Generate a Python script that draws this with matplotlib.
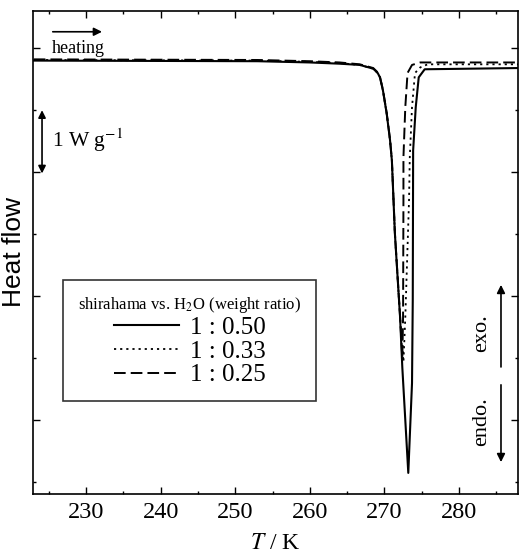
import matplotlib
matplotlib.use('Agg')
import matplotlib.pyplot as plt
from matplotlib.ticker import MultipleLocator, NullFormatter
import matplotlib.transforms as mtransforms

plt.rcParams['font.family'] = ['Liberation Serif', 'DejaVu Serif']
plt.rcParams['mathtext.fontset'] = 'stix'

# temperature / K and heat flow / W g^-1 (offset arbitrary)
T_050 = [223.0, 253.0, 260.0, 264.0, 266.7, 268.5, 269.1, 269.4, 269.8, 270.3, 270.75,
         271.0, 271.4, 272.1, 272.4, 273.2, 273.7, 273.8, 273.85, 274.2, 274.6, 275.4, 288.0]
y_050 = [5.80, 5.79, 5.77, 5.75, 5.73, 5.67, 5.60, 5.53, 5.32, 4.95, 4.52,
         4.19, 3.02, 1.66, 0.85, -0.85, 0.60, 1.94, 4.35, 5.05, 5.53, 5.66, 5.68]

T_033 = [223.0, 253.0, 260.0, 264.0, 266.7, 268.5, 269.1, 269.4, 269.8, 270.3, 270.75,
         271.0, 271.4, 272.1, 272.55, 272.8, 273.3, 273.4, 273.7, 274.1, 274.8, 275.8, 288.0]
y_033 = [5.81, 5.80, 5.78, 5.76, 5.73, 5.67, 5.60, 5.53, 5.32, 4.95, 4.52,
         4.19, 3.02, 1.66, 0.94, 1.66, 3.55, 4.24, 5.05, 5.60, 5.69, 5.74, 5.74]

T_025 = [223.0, 253.0, 260.0, 264.0, 266.7, 268.5, 269.1, 269.4, 269.8, 270.3, 270.75,
         271.0, 271.4, 272.1, 272.4, 272.5, 272.55, 272.55, 272.8, 273.1, 273.7, 274.8, 288.0]
y_025 = [5.82, 5.81, 5.79, 5.77, 5.74, 5.68, 5.61, 5.54, 5.33, 4.96, 4.53,
         4.20, 3.03, 1.67, 1.00, 1.66, 3.55, 4.24, 5.05, 5.60, 5.73, 5.77, 5.77]

labels = ['1 : 0.50', '1 : 0.33', '1 : 0.25']
legend_title = r'shirahama vs. H$_2$O (weight ratio)'

fig = plt.figure(figsize=(5.19, 5.58), dpi=100)
ax = fig.add_axes([0.0636, 0.1147, 0.9344, 0.8656])

ax.plot(T_050, y_050, c='k', lw=1.5, ls='-', label=labels[0])
ax.plot(T_033, y_033, c='k', lw=1.3, ls=(0, (1.2, 2.2)), label=labels[1])
ax.plot(T_025, y_025, c='k', lw=1.4, ls=(0, (6.0, 2.6)), label=labels[2])

ax.set_xlim(222.9, 287.9)
ax.set_ylim(-1.19, 6.60)
ax.xaxis.set_major_locator(MultipleLocator(10))
ax.xaxis.set_minor_locator(MultipleLocator(5))
ax.yaxis.set_major_locator(MultipleLocator(2))
ax.yaxis.set_minor_locator(MultipleLocator(1))
ax.yaxis.set_major_formatter(NullFormatter())
ax.tick_params(which='both', direction='in', top=True, right=True, width=1.0)
ax.tick_params(which='major', length=5)
ax.tick_params(which='minor', length=2.5)
ax.tick_params(axis='x', labelsize=17.5, pad=6)
for s in ax.spines.values():
    s.set_linewidth(1.2)

ax.set_xlabel(r'$T$ / K', fontsize=17, labelpad=7)
ax.set_ylabel('Heat flow', fontsize=19, family='Liberation Sans')
ax.yaxis.set_label_coords(-0.014, 0.5)

leg = ax.legend(loc='upper left', bbox_to_anchor=(0.062, 0.443), fontsize=18,
                title=legend_title, title_fontsize=12, frameon=True, fancybox=False,
                edgecolor='k', handlelength=2.6, handletextpad=0.45,
                labelspacing=0.05, borderpad=0.6, borderaxespad=0)
leg.get_frame().set_linewidth(1.2)

# heating arrow
ax.annotate('', xy=(0.148, 0.957), xytext=(0.035, 0.957), xycoords='axes fraction',
            arrowprops=dict(arrowstyle='-|>', color='k', lw=1.2, mutation_scale=12))
ax.text(0.039, 0.922, 'heating', transform=ax.transAxes, fontsize=13, va='center')

# 1 W g^-1 scale bar
tr = mtransforms.blended_transform_factory(ax.transAxes, ax.transData)
ax.annotate('', xy=(0.0186, 5.0), xytext=(0.0186, 3.98), xycoords=tr,
            arrowprops=dict(arrowstyle='<|-|>', color='k', lw=1.2, mutation_scale=11,
                            shrinkA=0, shrinkB=0))
ax.text(0.039, 4.52, r'1 W g$^{-1}$', transform=tr, fontsize=15.5, va='center')

# exo / endo
ax.text(0.926, 0.333, 'exo.', transform=ax.transAxes, rotation=90, fontsize=16,
        ha='center', va='center')
ax.text(0.926, 0.149, 'endo.', transform=ax.transAxes, rotation=90, fontsize=16,
        ha='center', va='center')
ax.annotate('', xy=(0.965, 0.433), xytext=(0.965, 0.263), xycoords='axes fraction',
            arrowprops=dict(arrowstyle='-|>', color='k', lw=1.2, mutation_scale=12,
                            shrinkA=0, shrinkB=0))
ax.annotate('', xy=(0.965, 0.066), xytext=(0.965, 0.226), xycoords='axes fraction',
            arrowprops=dict(arrowstyle='-|>', color='k', lw=1.2, mutation_scale=12,
                            shrinkA=0, shrinkB=0))

fig.savefig('out.png', dpi=100)
